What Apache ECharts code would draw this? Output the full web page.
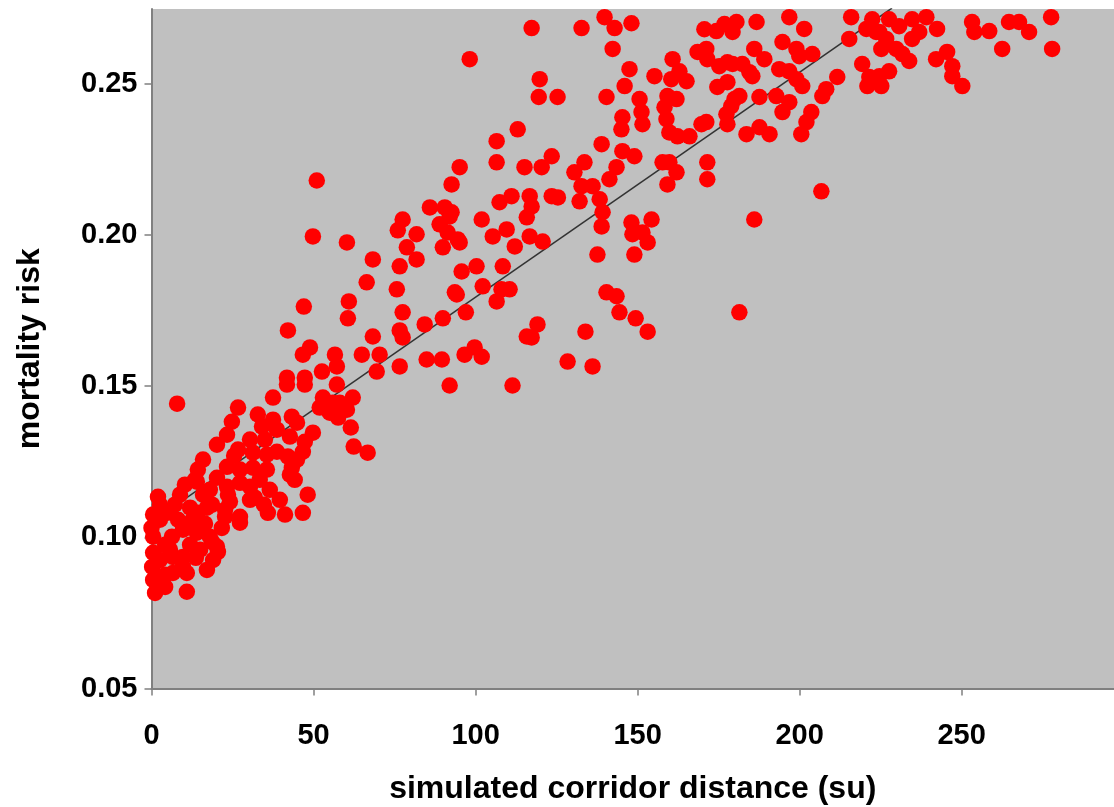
<!DOCTYPE html>
<html>
<head>
<meta charset="utf-8">
<script src="https://cdn.jsdelivr.net/npm/echarts@6/dist/echarts.min.js"></script>
<style>
html,body{margin:0;padding:0;background:#fff;}
#chart{width:1114px;height:807px;}
</style>
</head>
<body>
<div id="chart"></div>
<script>
// simulated corridor distance (su)
const distance = [
170.6,176.8,180.5,179.3,186.7,196.8,201.4,215.9,215.3,222.4,223.6,227.6,230.7,234.7,239.1,236.9,234.7,242.4,253.2,253.9,
258.5,264.6,267.7,270.8,262.5,277.6,277.9,171.2,171.5,186.0,189.1,194.7,199.0,199.9,203.9,175.2,179.3,182.3,185.4,174.6,
177.7,193.7,196.8,199.0,200.8,181.4,187.6,192.8,196.8,194.7,178.9,177.4,177.7,183.6,187.6,190.7,203.6,202.1,200.5,207.0,
208.2,211.6,219.3,220.6,224.6,226.7,225.2,229.8,231.7,233.8,227.6,224.6,221.5,220.9,225.2,242.1,245.5,247.1,247.1,250.2,
171.2,171.5,171.5,206.7,186.0,181.4,
117.3,132.7,139.8,142.9,148.1,142.3,98.2,119.8,119.5,125.3,147.5,146.0,140.4,155.2,150.6,151.2,151.5,145.3,145.0,160.8,
162.9,165.1,160.4,159.2,158.3,162.0,158.9,159.8,162.3,166.0,169.7,157.7,159.8,162.0,159.2,168.5,174.3,177.7,184.5,179.9,
138.9,145.3,149.0,133.6,130.5,143.5,141.3,132.7,136.1,138.3,132.1,139.2,138.9,148.1,154.3,151.5,153.1,148.4,149.0,137.6,
140.4,143.5,95.1,92.6,106.5,113.0,106.5,115.1,120.4,123.5,107.4,111.1,116.7,123.5,125.4,115.8,117.3,101.9,105.3,109.6,
112.1,116.7,120.7,108.4,100.3,95.7,94.5,92.6,102.2,108.0,110.5,93.6,
51.0,49.8,60.3,85.9,90.5,92.0,77.5,76.0,81.8,95.1,89.9,78.8,68.3,76.6,81.8,94.2,66.4,75.7,60.9,60.6,
47.0,77.5,76.6,77.5,84.3,89.9,97.0,42.1,46.7,48.9,56.6,57.2,64.9,68.3,70.4,69.5,76.6,84.9,89.6,96.6,
99.7,101.9,52.6,41.8,47.3,92.0,111.4,115.8,119.1,117.3,106.5,128.4,136.1,133.9,144.4,149.4,153.1,88.9,91.4,
57.2,62.1,58.1,57.2,61.5,62.4,66.7,
41.8,47.3,37.5,52.9,51.9,55.9,60.3,55.0,57.6,26.7,32.8,24.8,34.1,43.3,44.9,38.7,42.7,49.8,47.3,23.3,
26.7,31.3,35.6,38.7,42.1,46.7,23.3,27.3,31.3,35.6,43.3,44.2,23.3,27.3,33.4,24.2,30.4,48.2,22.7,35.9,
46.7,27.3,
7.9,20.2,15.9,14.3,14.0,2.0,8.8,0.5,4.8,11.9,17.1,27.3,42.7,44.9,37.5,0.5,0.5,0.2,0.5,1.1,
6.3,9.7,14.0,18.0,20.2,19.0,17.1,10.9,6.6,6.6,9.7,4.2,
14.3,18.7,22.7,13.4,20.2,30.4,18.7,20.5,10.9,9.7,5.7,0.0,
2.6,4.2,8.2,12.5,15.0,11.9,2.6,4.2,13.7,15.9,7.2,10.3,2.6,16.5,21.7,23.6,18.0,31.9,39.6,41.2,
34.7,36.5,30.4,35.0,25.5
];
// mortality risk
const risk = [
0.2680,0.2697,0.2704,0.2671,0.2704,0.2720,0.2681,0.2720,0.2648,0.2713,0.2671,0.2713,0.2690,0.2713,0.2720,0.2671,0.2648,0.2681,0.2704,0.2671,
0.2674,0.2704,0.2704,0.2671,0.2615,0.2720,0.2615,0.2615,0.2581,0.2615,0.2581,0.2638,0.2615,0.2591,0.2598,0.2558,0.2565,0.2565,0.2525,0.2489,
0.2505,0.2548,0.2541,0.2515,0.2492,0.2459,0.2456,0.2459,0.2439,0.2406,0.2426,0.2399,0.2366,0.2333,0.2356,0.2333,0.2406,0.2373,0.2333,0.2459,
0.2482,0.2522,0.2565,0.2681,0.2671,0.2648,0.2615,0.2615,0.2598,0.2575,0.2541,0.2525,0.2522,0.2492,0.2492,0.2581,0.2605,0.2558,0.2525,0.2492,
0.2373,0.2240,0.2184,0.2144,0.2051,0.1744,
0.2684,0.2684,0.2720,0.2684,0.2700,0.2615,0.2581,0.2515,0.2456,0.2456,0.2548,0.2492,0.2456,0.2525,0.2449,0.2406,0.2366,0.2389,0.2349,0.2581,
0.2541,0.2508,0.2515,0.2459,0.2422,0.2449,0.2383,0.2339,0.2326,0.2326,0.2366,0.2240,0.2240,0.2207,0.2167,0.2605,0.2674,0.2571,0.2538,0.2449,
0.2300,0.2277,0.2260,0.2240,0.2207,0.2224,0.2184,0.2161,0.2161,0.2118,0.2111,0.2075,0.2028,0.2041,0.2051,0.2008,0.1975,0.2002,0.1935,0.1935,
0.1810,0.1797,0.2224,0.2167,0.2310,0.2349,0.2240,0.2224,0.2224,0.2260,0.2108,0.2128,0.2128,0.2128,0.2124,0.2058,0.2094,0.2051,0.1995,0.2018,
0.1962,0.1995,0.1978,0.1896,0.1896,0.1879,0.1985,0.2075,0.1830,0.1820,0.1820,0.1810,
0.2180,0.1995,0.1975,0.2091,0.2091,0.2061,0.2051,0.2015,0.2002,0.1975,0.1959,0.1959,0.1919,0.1896,0.1919,0.1803,0.1843,0.1820,0.1780,0.1724,
0.1763,0.1744,0.1684,0.1661,0.1704,0.1724,0.1744,0.1684,0.1604,0.1628,0.1604,0.1565,0.1604,0.1664,0.1604,0.1548,0.1565,0.1588,0.1588,0.1604,
0.1628,0.1597,0.1548,0.1528,0.1528,0.1502,0.1502,0.1664,0.1704,0.1661,0.1780,0.1581,0.1565,0.1680,0.1744,0.1724,0.1680,0.2035,0.2008,
0.1505,0.1462,0.1445,0.1406,0.1363,0.1300,0.1280,
0.1505,0.1505,0.1462,0.1462,0.1429,0.1445,0.1422,0.1412,0.1396,0.1429,0.1406,0.1382,0.1366,0.1399,0.1379,0.1356,0.1333,0.1346,0.1316,0.1339,
0.1290,0.1280,0.1273,0.1283,0.1267,0.1283,0.1233,0.1224,0.1230,0.1224,0.1230,0.1190,0.1167,0.1180,0.1190,0.1118,0.1124,0.1141,0.1091,0.1081,
0.1081,0.1068,
0.1442,0.1306,0.1257,0.1224,0.1184,0.1134,0.1141,0.1075,0.1081,0.1098,0.1098,0.1048,0.1207,0.1257,0.1389,0.1002,0.0949,0.0902,0.0859,0.0816,
0.1002,0.1025,0.1015,0.1002,0.0969,0.0925,0.0892,0.0820,0.0935,0.0882,0.0902,0.0836,
0.1081,0.1108,0.1068,0.1190,0.1197,0.1167,0.0985,0.0952,0.0882,0.0935,0.0959,0.1031,
0.1058,0.0975,0.1058,0.1055,0.0959,0.0975,0.0925,0.0876,0.0932,0.1141,0.1108,0.1174,0.1108,0.1045,0.1031,0.1141,0.1157,0.1131,0.1124,0.1075,
0.1108,0.1157,0.1323,0.1323,0.1270
];
// linear trend line end points
const trendX = [0, 228.5];
const trendY = [0.105, 0.275];
// axis ticks
const xTicks = [0, 50, 100, 150, 200, 250];
const yTicks = [0.05, 0.10, 0.15, 0.20, 0.25];

const points = distance.map((d, i) => [d, risk[i]]);
const trend = trendX.map((d, i) => [d, trendY[i]]);

const chart = echarts.init(document.getElementById('chart'), null, {renderer: 'canvas'});
const font = '"Liberation Sans", Arial, sans-serif';
chart.setOption({
  animation: false,
  backgroundColor: '#ffffff',
  grid: {
    left: 151.5, right: 0, top: 9, bottom: 118.5,
    outerBoundsMode: 'none', containLabel: false,
    show: true, backgroundColor: '#c0c0c0', borderWidth: 0
  },
  xAxis: {
    type: 'value', min: 0, max: 297, interval: 50,
    name: 'simulated corridor distance (su)',
    nameLocation: 'middle', nameGap: 85,
    nameTextStyle: {fontFamily: font, fontWeight: 'bold', fontSize: 32, color: '#000'},
    axisLine: {show: true, lineStyle: {color: '#808080', width: 2}},
    axisTick: {show: true, length: 7, inside: false, customValues: xTicks, lineStyle: {color: '#808080', width: 1.5}},
    axisLabel: {customValues: xTicks, margin: 33, fontFamily: font, fontWeight: 'bold', fontSize: 29, color: '#000'},
    splitLine: {show: false}
  },
  yAxis: {
    type: 'value', min: 0.05, max: 0.2747, interval: 0.05,
    name: 'mortality risk',
    nameLocation: 'middle', nameGap: 105, nameRotate: 90,
    nameTextStyle: {fontFamily: font, fontWeight: 'bold', fontSize: 32, color: '#000'},
    axisLine: {show: true, lineStyle: {color: '#808080', width: 2}},
    axisTick: {show: true, length: 7, inside: false, customValues: yTicks, lineStyle: {color: '#808080', width: 1.5}},
    axisLabel: {customValues: yTicks, margin: 14, fontFamily: font, fontWeight: 'bold', fontSize: 29, color: '#000',
      formatter: v => v.toFixed(2)},
    splitLine: {show: false}
  },
  series: [
    {
      type: 'line', data: trend, symbol: 'none', z: 1,
      lineStyle: {color: '#333333', width: 1.5}, silent: true
    },
    {
      type: 'scatter', data: points, symbol: 'circle', symbolSize: 16.5, z: 2,
      itemStyle: {color: '#ff0000', opacity: 1}
    }
  ]
});
</script>
</body>
</html>
